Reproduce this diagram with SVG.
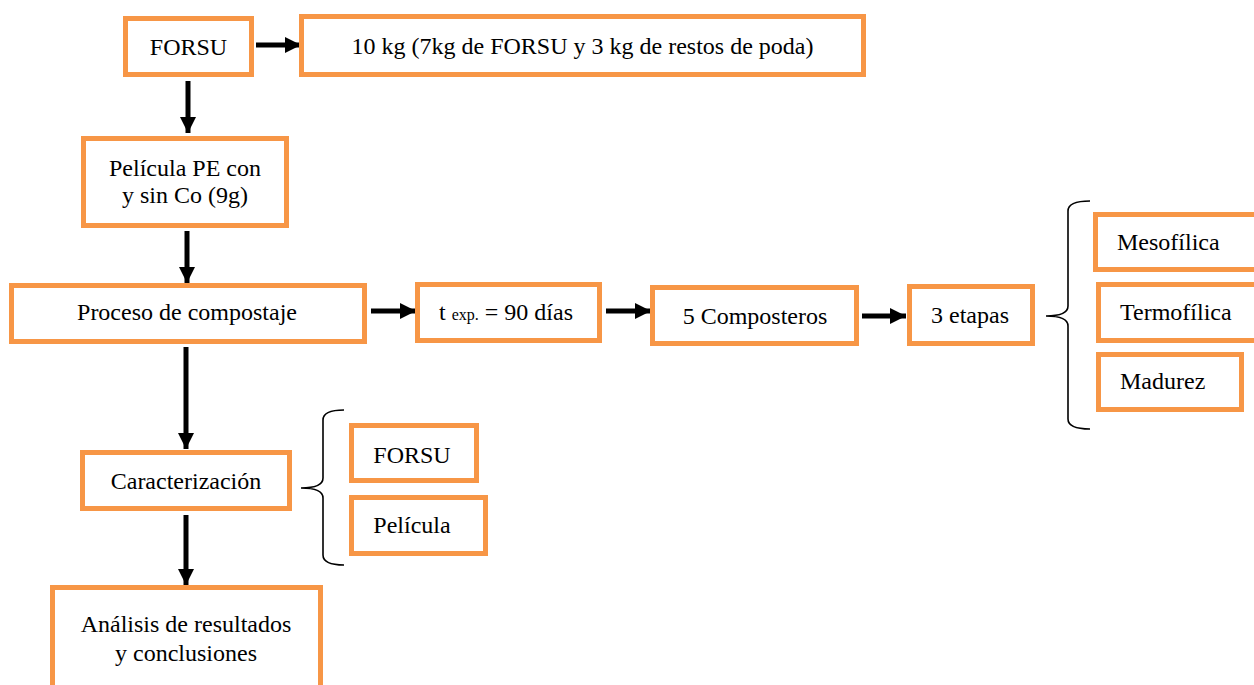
<svg xmlns="http://www.w3.org/2000/svg" width="1254" height="685" viewBox="0 0 1254 685">
<style>
.box{fill:#fff;stroke:#F79646;stroke-width:5}
.t{font-family:"Liberation Serif","Times New Roman",serif;font-size:24px;fill:#000}
.c{text-anchor:middle}
.ar{stroke:#000;stroke-width:5;fill:none;marker-end:url(#ah)}
.br{stroke:#000;stroke-width:1.6;fill:none}
</style>
<defs>
<marker id="ah" markerUnits="userSpaceOnUse" markerWidth="18" markerHeight="18" refX="16" refY="8" orient="auto">
<path d="M0,0 L16,8 L0,16 Z" fill="#000"/>
</marker>
</defs>
<rect width="1254" height="685" fill="#fff"/>
<g id="connectors">
<line class="ar" x1="256" y1="45" x2="301" y2="45"/>
<line class="ar" x1="188" y1="81" x2="188" y2="133"/>
<line class="ar" x1="187" y1="231" x2="187" y2="283"/>
<line class="ar" x1="371" y1="311" x2="416" y2="311"/>
<line class="ar" x1="606" y1="311" x2="651" y2="311"/>
<line class="ar" x1="862" y1="316" x2="906" y2="316"/>
<line class="ar" x1="186" y1="347" x2="186" y2="449"/>
<line class="ar" x1="186" y1="515" x2="186" y2="585"/>
<path class="br" d="M1090,201 Q1068,201 1068,211 L1068,306 Q1068,316 1046,316 Q1068,316 1068,326 L1068,419 Q1068,429 1090,429"/>
<path class="br" d="M344,410 Q323,410 323,420 L323,478 Q323,488 301,488 Q323,488 323,498 L323,555 Q323,565 344,565"/>
</g>
<g id="n-forsu"><rect class="box" x="125.5" y="18.5" width="126" height="56"/><text class="t c" x="188.5" y="55">FORSU</text></g>
<g id="n-10kg"><rect class="box" x="301.5" y="16.5" width="562" height="58"/><text class="t c" x="582.5" y="54">10 kg (7kg de FORSU y 3 kg de restos de poda)</text></g>
<g id="n-pelicula"><rect class="box" x="83.5" y="138.5" width="203" height="87"/><text class="t c" x="185" y="176">Película PE con</text><text class="t c" x="185" y="203">y sin Co (9g)</text></g>
<g id="n-proceso"><rect class="box" x="11.5" y="285.5" width="353" height="56"/><text class="t c" x="187" y="320">Proceso de compostaje</text></g>
<g id="n-texp"><rect class="box" x="417.5" y="284.5" width="182" height="56"/><text class="t" x="439" y="320">t <tspan font-size="16px">exp.</tspan> = 90 días</text></g>
<g id="n-composteros"><rect class="box" x="652.5" y="287.5" width="204" height="56"/><text class="t c" x="755" y="324">5 Composteros</text></g>
<g id="n-etapas"><rect class="box" x="909.5" y="286.5" width="123" height="57"/><text class="t c" x="970" y="323">3 etapas</text></g>
<g id="n-meso"><rect class="box" x="1095.5" y="214.5" width="170" height="55"/><text class="t" x="1117" y="250">Mesofílica</text></g>
<g id="n-termo"><rect class="box" x="1098.5" y="284.5" width="170" height="56"/><text class="t" x="1120" y="320">Termofílica</text></g>
<g id="n-madurez"><rect class="box" x="1098.5" y="354.5" width="143" height="55"/><text class="t" x="1120" y="389">Madurez</text></g>
<g id="n-caract"><rect class="box" x="82.5" y="452.5" width="207" height="56"/><text class="t c" x="186" y="489">Caracterización</text></g>
<g id="n-forsu2"><rect class="box" x="351.5" y="425.5" width="125" height="55"/><text class="t c" x="412" y="463">FORSU</text></g>
<g id="n-pelicula2"><rect class="box" x="351.5" y="497.5" width="134" height="56"/><text class="t c" x="412" y="533">Película</text></g>
<g id="n-analisis"><rect class="box" x="52.5" y="587.5" width="268" height="110"/><text class="t c" x="186" y="632">Análisis de resultados</text><text class="t c" x="186" y="661">y conclusiones</text></g>
</svg>
